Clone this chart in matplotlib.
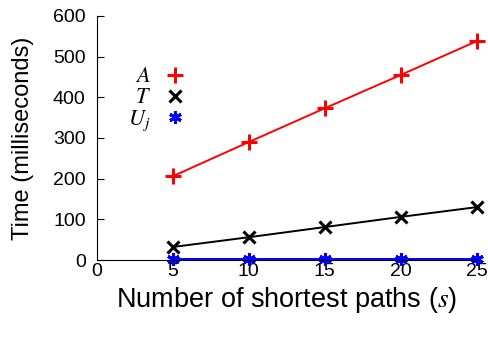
import matplotlib.pyplot as plt
from matplotlib.lines import Line2D

plt.rcParams["font.family"] = ["Liberation Sans", "DejaVu Sans"]
plt.rcParams["mathtext.fontset"] = "stix"

# number of shortest paths and runtime in ms
s = [5, 10, 15, 20, 25]
time_a = [206, 290, 373, 455, 538]
time_t = [32, 56, 81, 106, 130]
time_u = [2, 2, 2, 2, 2]

series = [
    (time_a, "red", "+", 12, r"$A$"),
    (time_t, "black", "x", 9, r"$T$"),
    (time_u, "blue", (6, 2, 0), 9, r"$U_j$"),
]

fig = plt.figure(figsize=(4.89, 3.39), dpi=100)
ax = fig.add_axes([0.198, 0.233, 0.777, 0.72])

handles = []
for vals, col, mk, ms, lab in series:
    ax.plot(s, vals, color=col, marker=mk, markersize=ms, markeredgewidth=2.2,
            linewidth=1.4, clip_on=False)
    handles.append(Line2D([], [], color=col, marker=mk, markersize=ms,
                          markeredgewidth=2.2, linestyle="none", label=lab))

ax.set_xlim(0, 25)
ax.set_ylim(0, 600)
ax.set_xticks([0, 5, 10, 15, 20, 25])
ax.set_yticks(range(0, 601, 100))
ax.spines["top"].set_visible(False)
ax.spines["right"].set_visible(False)
ax.tick_params(direction="in", labelsize=14, length=5)
ax.tick_params(axis="y", pad=8)
ax.tick_params(axis="x", length=0, pad=2)

ax.set_xlabel(r"Number of shortest paths ($s$)", fontsize=19.5, labelpad=4)
ax.set_ylabel("Time (milliseconds)", fontsize=17, labelpad=14)

leg = ax.legend(handles=handles, loc="upper left", bbox_to_anchor=(0.03, 0.875),
                frameon=False, markerfirst=False, handlelength=1.0,
                handletextpad=0.6, labelspacing=0.0, fontsize=16)
for t in leg.get_texts():
    t.set_ha("right")

fig.savefig("out.png", dpi=100)
